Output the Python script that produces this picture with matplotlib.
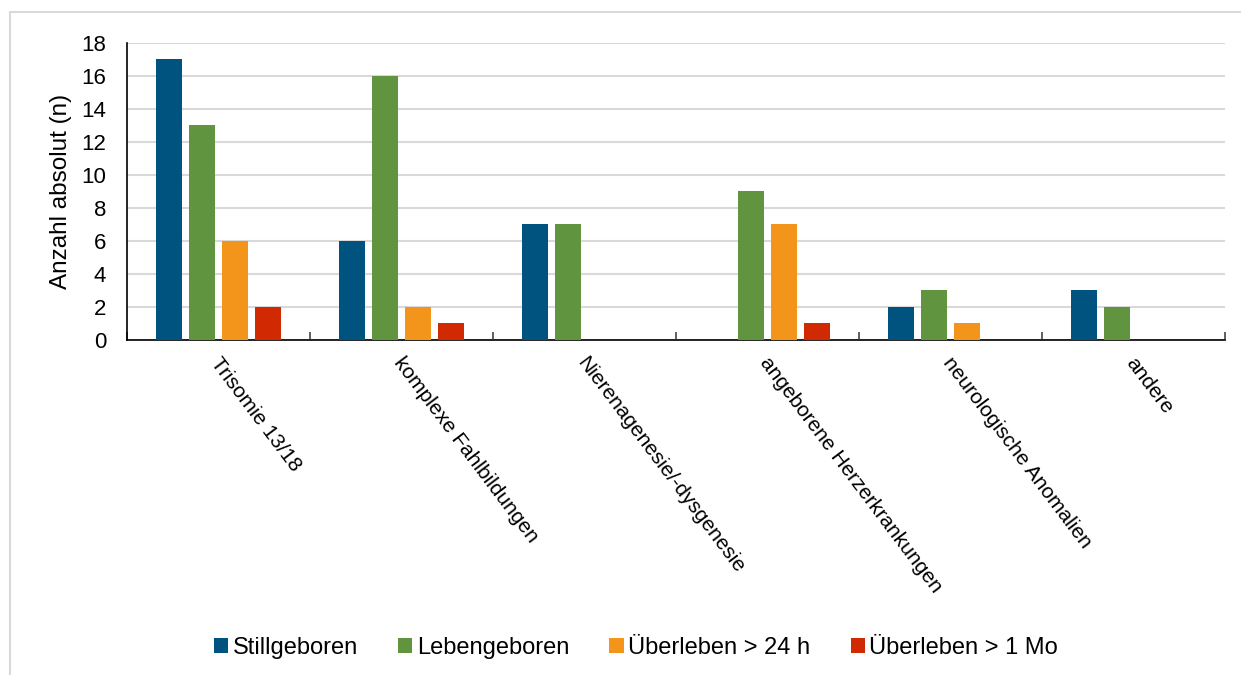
import numpy as np
import matplotlib.pyplot as plt
from matplotlib.patches import Rectangle

plt.rcParams['font.family'] = ['Liberation Sans', 'DejaVu Sans']

categories = ['Trisomie 13/18', 'komplexe Fahlbildungen', 'Nierenagenesie/-dysgenesie',
              'angeborene Herzerkrankungen', 'neurologische Anomalien', 'andere']
series = ['Stillgeboren', 'Lebengeboren', 'Überleben > 24 h', 'Überleben > 1 Mo']
stillgeboren = [17, 6, 7, 0, 2, 3]
lebengeboren = [13, 16, 7, 9, 3, 2]
ueberleben_24h = [6, 2, 0, 7, 1, 0]
ueberleben_1mo = [2, 1, 0, 1, 0, 0]
colors = ['#00527f', '#61943e', '#f3951a', '#d12a02']

fig = plt.figure(figsize=(12.41, 6.75), dpi=100)
fig.patches.append(Rectangle((10 / 1241, -0.1), 1.2, 1 - 12 / 675 + 0.1,
                             transform=fig.transFigure, fill=False,
                             edgecolor='#d9d9d9', linewidth=1.5))
ax = fig.add_axes([127 / 1241, 1 - 339.5 / 675, (1225 - 127) / 1241, (339.5 - 42.7) / 675])

x = np.arange(len(categories))
step = 0.18
width = 0.142
for i, (vals, name) in enumerate(zip([stillgeboren, lebengeboren, ueberleben_24h, ueberleben_1mo], series)):
    ax.bar(x + (i - 1.5) * step, vals, width, color=colors[i], label=name, zorder=3)

ax.set_xlim(-0.5, len(categories) - 0.5)
ax.set_ylim(0, 18)
ax.set_yticks(range(0, 19, 2))
ax.tick_params(axis='y', length=0, labelsize=16, pad=15)
ax.yaxis.grid(True, color='#d9d9d9', linewidth=1.5, zorder=0)
ax.set_axisbelow(True)

ax.set_xticks(np.arange(-0.5, len(categories)))
ax.set_xticklabels([])
ax.tick_params(axis='x', direction='in', length=6, color='#444444', width=1.2)
for xi, cat in zip(x, categories):
    ax.text(xi + 0.02, -0.85, cat, rotation=-53, ha='left', va='top',
            rotation_mode='anchor', fontsize=15)

for s in ['top', 'right']:
    ax.spines[s].set_visible(False)
ax.spines['left'].set_linewidth(1.2)
ax.spines['bottom'].set_linewidth(1.2)

ax.set_ylabel('Anzahl absolut (n)', fontsize=17.5, labelpad=7)

fig.legend(loc='center', bbox_to_anchor=(636 / 1241, 1 - 648 / 675), ncol=4, frameon=False,
           fontsize=17, handlelength=0.6, handleheight=0.6, handletextpad=0.2,
           columnspacing=1.7)

fig.savefig('out.png', dpi=100)
